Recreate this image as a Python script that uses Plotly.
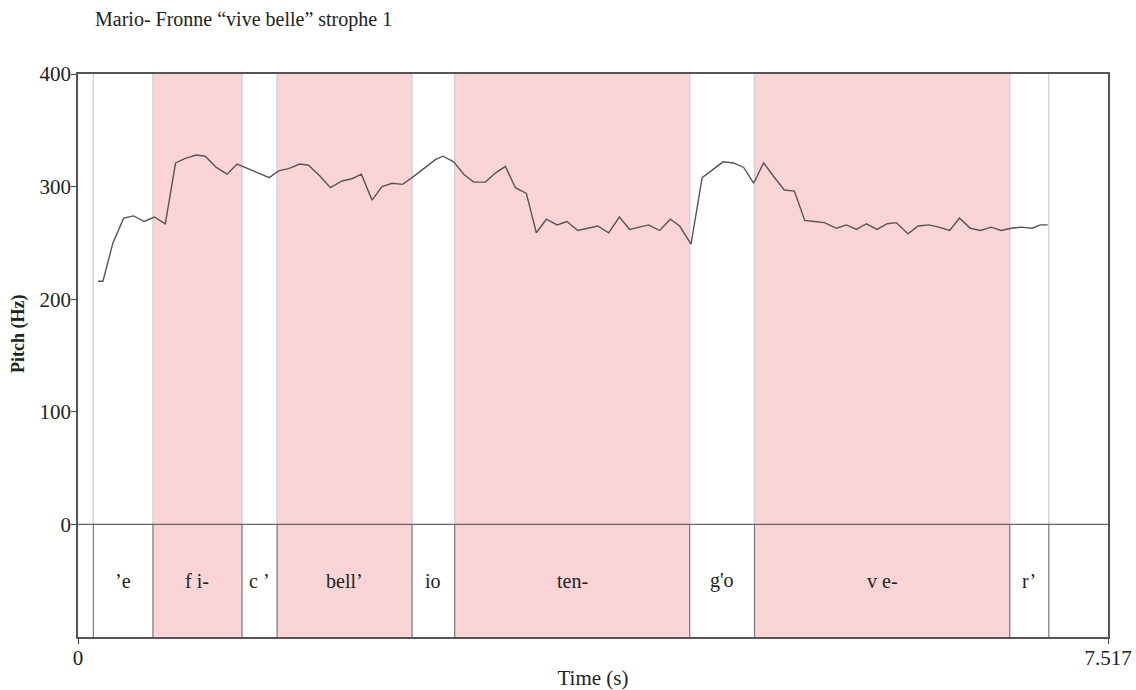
import plotly.graph_objects as go

# ---- data ----
time_s = [0.146, 0.182, 0.255, 0.333, 0.406, 0.484, 0.557, 0.637, 0.712, 0.783,
          0.864, 0.929, 1.009, 1.088, 1.161, 1.234, 1.318, 1.396, 1.464, 1.537,
          1.618, 1.683, 1.769, 1.842, 1.927, 2.000, 2.068, 2.146, 2.219, 2.292,
          2.369, 2.438, 2.535, 2.608, 2.664, 2.742, 2.815, 2.888, 2.973, 3.046,
          3.119, 3.192, 3.272, 3.345, 3.418, 3.496, 3.569, 3.647, 3.720, 3.793,
          3.873, 3.951, 4.026, 4.099, 4.165, 4.245, 4.323, 4.391, 4.474, 4.555,
          4.628, 4.708, 4.785, 4.858, 4.931, 5.004, 5.077, 5.155, 5.228, 5.304,
          5.374, 5.447, 5.535, 5.608, 5.681, 5.754, 5.832, 5.905, 5.973, 6.058,
          6.131, 6.209, 6.282, 6.362, 6.433, 6.513, 6.586, 6.664, 6.737, 6.810,
          6.883, 6.964, 7.024, 7.077]
pitch_hz = [216, 216, 250, 272, 274, 269, 273, 267, 321, 325,
            328, 327, 317, 311, 320, 316, 312, 308, 314, 316,
            320, 319, 309, 299, 305, 307, 311, 288, 300, 303,
            302, 308, 317, 324, 327, 322, 311, 304, 304, 312,
            318, 299, 294, 259, 271, 266, 269, 261, 263, 265,
            259, 273, 262, 264, 266, 261, 271, 265, 249, 308,
            315, 322, 321, 317, 303, 321, 309, 297, 296, 270,
            269, 268, 263, 266, 262, 267, 262, 267, 268, 258,
            265, 266, 264, 261, 272, 263, 261, 264, 261, 263,
            264, 263, 266, 266]

syllables = ["’e", "f i-", "c ’", "bell’", "io", "ten-", "g'o", "v e-", "r’"]
seg_start = [0.112, 0.547, 1.197, 1.453, 2.438, 2.749, 4.464, 4.937, 6.800]
seg_end = [0.547, 1.197, 1.453, 2.438, 2.749, 4.464, 4.937, 6.800, 7.085]
highlighted = [False, True, False, True, False, True, False, True, False]

t_max = 7.517
y_ticks = [0, 100, 200, 300, 400]

SERIF = "Liberation Serif, Times New Roman, serif"
PINK = "#FBD5D5"

fig = go.Figure()

shapes = []
# pink syllable bands
for s, e, h in zip(seg_start, seg_end, highlighted):
    if h:
        shapes.append(dict(type="rect", xref="x", yref="y", x0=s, x1=e, y0=-100, y1=400,
                           fillcolor=PINK, line=dict(width=0), layer="below"))
# boundary lines
bounds = sorted(set(seg_start + seg_end))
for b in bounds:
    shapes.append(dict(type="line", xref="x", yref="y", x0=b, x1=b, y0=0, y1=400,
                       line=dict(color="#d4d4d4", width=1.5), layer="below"))
    shapes.append(dict(type="line", xref="x", yref="y", x0=b, x1=b, y0=-100, y1=0,
                       line=dict(color="#777777", width=1.2), layer="below"))
# zero line separating the tier
shapes.append(dict(type="line", xref="x", yref="y", x0=0, x1=t_max, y0=0, y1=0,
                   line=dict(color="#666666", width=1.2), layer="above"))

fig.add_trace(go.Scatter(x=time_s, y=pitch_hz, mode="lines",
                         line=dict(color="#555555", width=1.4),
                         showlegend=False, hoverinfo="skip"))

annotations = []
for s, e, lab in zip(seg_start, seg_end, syllables):
    annotations.append(dict(x=(s + e) / 2, y=-50, xref="x", yref="y", text=lab,
                            showarrow=False, font=dict(family=SERIF, size=20, color="#222")))
# y-axis title
annotations.append(dict(x=(18 - 78) / (1136 - 78 - 28), xref="paper",
                        y=(637 - 334) / (637 - 74), yref="paper",
                        xanchor="center", yanchor="middle",
                        text="<b>Pitch (Hz)</b>", textangle=-90, showarrow=False,
                        font=dict(family=SERIF, size=18, color="#222")))

fig.update_layout(
    width=1136, height=690,
    margin=dict(l=78, r=28, t=74, b=53, autoexpand=False),
    paper_bgcolor="white", plot_bgcolor="white",
    shapes=shapes, annotations=annotations,
    title=dict(text="Mario- Fronne “vive belle” strophe 1",
               x=95 / 1136, xanchor="left", y=1 - 19 / 690, yanchor="middle",
               font=dict(family=SERIF, size=20, color="#222")),
    font=dict(family=SERIF, color="#222"),
)
fig.update_xaxes(range=[0, t_max], tickvals=[0, t_max], ticktext=["0", "7.517"],
                 ticks="outside", ticklen=5, tickcolor="#444",
                 showline=True, linecolor="#555", linewidth=1.5, mirror=True,
                 showgrid=False, zeroline=False, automargin=False,
                 ticklabelstandoff=-4,
                 tickfont=dict(family=SERIF, size=21, color="#222"),
                 title=dict(text="Time (s)", standoff=6,
                            font=dict(family=SERIF, size=21, color="#222")))
fig.update_yaxes(range=[-100, 400], tickvals=y_ticks,
                 ticks="outside", ticklen=5, tickcolor="#444",
                 showline=True, linecolor="#555", linewidth=1.5, mirror=True,
                 showgrid=False, zeroline=False, automargin=False,
                 ticklabelstandoff=-4,
                 tickfont=dict(family=SERIF, size=21, color="#222"))

fig.write_html("out.html", config={"displayModeBar": False},
               post_script="document.body.style.margin='0';")
